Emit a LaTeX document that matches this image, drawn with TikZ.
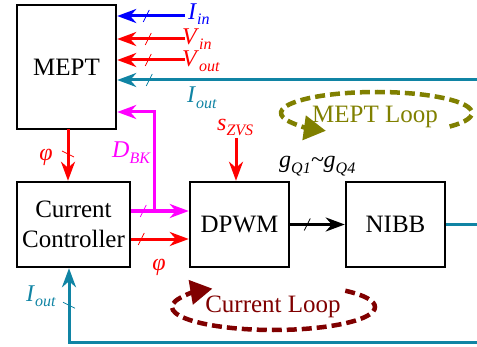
\documentclass[tikz,border=0pt]{standalone}
\usepackage{fontspec}
\setmainfont{Liberation Serif}
\usetikzlibrary{arrows.meta,positioning,decorations.markings,calc}

\definecolor{ioutcol}{RGB}{16,132,164}
\definecolor{dbkcol}{RGB}{255,0,255}
\definecolor{loopolive}{RGB}{128,128,0}
\definecolor{loopred}{RGB}{128,0,0}

\newcommand{\sgl}[2]{\textit{#1}\raisebox{-5pt}{\fontsize{16}{16}\selectfont\textit{#2}}}

\begin{document}
\begin{tikzpicture}[x=1pt,y=1pt,
  blk/.style={draw,line width=2.5pt,align=center,inner sep=0pt,font=\fontsize{25}{30}\selectfont},
  sig/.style={line width=3pt,-{Stealth[length=19pt,width=14pt,inset=6pt]}},
  lbl/.style={inner sep=0pt,font=\fontsize{24}{26}\selectfont},
  busmk/.style={postaction={decorate,decoration={markings,mark=at position #1 with {\draw[line width=0.7pt,-] (-3,-6) -- (3,6);}}}},
  loopline/.style={line width=4.5pt,dash pattern=on 10pt off 5pt,-{Triangle[length=22pt,width=24pt]}}]

\useasboundingbox (0,0) rectangle (477,346);

% Blocks
\node[blk,minimum width=99pt,minimum height=124pt] (mept) at (66.5,279) {MEPT};
\node[blk,minimum width=113pt,minimum height=85pt] (cc) at (73.5,121.5) {Current\\Controller};
\node[blk,minimum width=99pt,minimum height=85pt] (dpwm) at (239.5,121.5) {DPWM};
\node[blk,minimum width=99pt,minimum height=85pt] (nibb) at (395.5,121.5) {NIBB};

% Free ends and corners
\coordinate (iin) at (185,330);
\coordinate (vin) at (185,307);
\coordinate (vout) at (185,286);
\coordinate (ioutR) at (477,266);
\coordinate (jb) at (154,135);
\coordinate (dbk) at (154,234);
\coordinate (phiy) at (0,107);
\coordinate (phitop) at (68,217);
\coordinate (szvs) at (236,208);
\coordinate (botR) at (477,4);
\coordinate (fbk) at (69,4);

% Signals into MEPT
\draw[sig,blue,busmk=-29pt] (iin) -- (iin -| mept.east);
\draw[sig,red,busmk=-31pt] (vin) -- (vin -| mept.east);
\draw[sig,red,busmk=-31pt] (vout) -- (vout -| mept.east);
\draw[sig,ioutcol,busmk=-32pt] (ioutR) -- (ioutR -| mept.east);
\draw[sig,dbkcol] (jb) -- (dbk) -- (dbk -| mept.east);

% Forward path
\draw[sig,red,busmk=25pt] (phitop) -- (phitop |- cc.north);
\draw[sig,dbkcol,busmk=12pt] (cc.east |- jb) -- (dpwm.west |- jb);
\draw[sig,red,busmk=10pt] (cc.east |- phiy) -- (dpwm.west |- phiy);
\draw[sig,red] (szvs) -- (szvs |- dpwm.north);
\draw[sig,black,busmk=17pt] (dpwm) -- (nibb);

% Feedback
\draw[ioutcol,line width=3pt] (nibb.east) -- (nibb.east -| botR);
\draw[sig,ioutcol,busmk=-37pt] (botR) -- (fbk) -- (fbk |- cc.south);

% Labels
\node[lbl,anchor=base west,text=blue] (liin) at (188,326) {\sgl{I}{in}};
\node[lbl,anchor=base west,text=red] (lvin) at (182,301) {\sgl{V}{in}};
\node[lbl,anchor=base west,text=red] (lvout) at (182,279) {\sgl{V}{out}};
\node[lbl,anchor=base west,text=ioutcol] (liout) at (187,243) {\sgl{I}{out}};
\node[lbl,anchor=base west,text=dbkcol] (ldbk) at (112,188) {\sgl{D}{BK}};
\node[lbl,anchor=base west,text=red] (lszvs) at (217,215) {\sgl{s}{ZVS}};
\node[lbl,anchor=base west] (lgq) at (279,178) {\sgl{g}{Q1}\textit{\textasciitilde}\sgl{g}{Q4}};
\node[lbl,text=red] (lphia) at (46,189) {\textit{φ}};
\node[lbl,text=red] (lphib) at (159,79) {\textit{φ}};
\node[lbl,anchor=base west,text=ioutcol] (lioutb) at (26,45) {\sgl{I}{out}};

% Loops
\coordinate (mloop) at (376.5,233);
\draw[loopline,loopolive] ($(mloop)+(-40:95.5 and 21)$) arc[start angle=-40,end angle=238,x radius=95.5,y radius=21];
\node[lbl,text=loopolive,font=\fontsize{25}{28}\selectfont] (lmloop) at (375,229) {MEPT Loop};

\coordinate (cloop) at (273.5,39);
\draw[loopline,loopred] ($(cloop)+(45:101.5 and 23)$) arc[start angle=45,end angle=-233,x radius=101.5,y radius=23];
\node[lbl,text=loopred,font=\fontsize{25}{28}\selectfont] (lcloop) at (273,39) {Current Loop};

\end{tikzpicture}
\end{document}
